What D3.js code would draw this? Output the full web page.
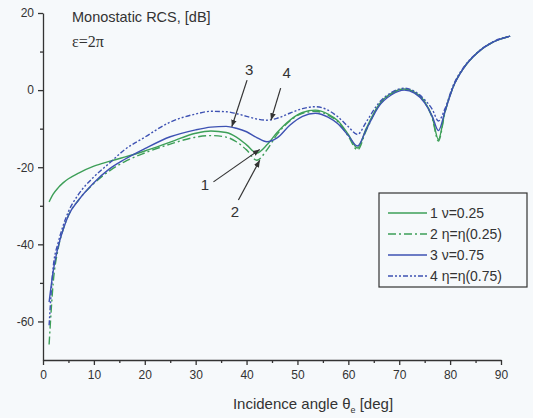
<!DOCTYPE html>
<html>
<head>
<meta charset="utf-8">
<script src="https://cdn.jsdelivr.net/npm/d3@7"></script>
<style>
  body { margin: 0; background: #f6f9fb; }
  text { font-family: "Liberation Sans", Arial, sans-serif; fill: #333; }
</style>
</head>
<body>
<div id="chart"></div>
<script>
// incidence angles (deg) shared by all curves
const angles = [1.2, 2, 3, 4, 5, 7, 10, 13, 16, 20, 25, 30, 33, 36, 38, 40, 42, 44, 46, 48.5,
    51, 53.5, 56, 58, 60, 61.8, 63.5, 66, 68.5, 71, 73, 75, 76.5, 77.7, 79, 80.6, 82.6, 85.2, 88.5, 91.8];

// monostatic RCS [dB]
const rcsNu025 = [-29, -27, -25.3, -24, -23, -21.5, -19.7, -18.5, -17.4, -15.8, -13.5, -11.2, -10.6, -11, -12.2, -14.2, -16.3, -14.2, -11, -7.8,
    -5.8, -5.2, -6.2, -8, -11.5, -15, -10, -3.8, -0.8, 0.3, -0.5, -3, -7, -12.8, -5.5, 0.9, 5.6, 9.5, 12.5, 14];
const rcsEta025 = [-66, -50, -41, -36, -32.5, -28.5, -24.2, -21, -18.6, -16.3, -14, -12.2, -11.8, -12.2, -13.4, -15.5, -18.2, -15.5, -11.5, -8,
    -6, -5.5, -6.5, -8.3, -12, -15.5, -10.5, -4, -1, 0.2, -0.6, -3.2, -7.3, -13.2, -5.8, 0.8, 5.6, 9.5, 12.5, 14];
const rcsNu075 = [-55, -47, -40.5, -36, -32.5, -28.5, -24, -20.5, -18, -15.2, -12.1, -10.3, -9.6, -9.4, -9.9, -10.8, -12.3, -13.4, -12.4, -9.1,
    -6.8, -6, -7, -8.8, -11.8, -14.5, -10.3, -4.2, -1.2, 0, -0.8, -3.3, -6.8, -10.5, -5.5, 0.8, 5.6, 9.5, 12.5, 14];
const rcsEta075 = [-61, -46, -39.5, -35, -31.5, -27, -22.5, -19, -15.5, -12.2, -8.3, -6.2, -5.5, -5.6, -6.1, -6.8, -7.5, -7.8, -7.3, -6,
    -4.8, -4.3, -5.2, -7, -9.5, -11.5, -8.3, -3.3, -0.6, 0.5, -0.3, -2.5, -5, -8, -4.8, 1.2, 5.8, 9.6, 12.6, 14];

const xTicks = [0, 10, 20, 30, 40, 50, 60, 70, 80, 90];
const xMinorTicks = [5, 15, 25, 35, 45, 55, 65, 75, 85];
const yTicks = [-60, -40, -20, 0, 20];
const yMinorTicks = [-50, -30, -10, 10];

const series = [
    { label: "1 \u03bd=0.25", values: rcsNu025, color: "#3d9f58", dash: null },
    { label: "2 \u03b7=\u03b7(0.25)", values: rcsEta025, color: "#3d9f58", dash: "8,3,2,3" },
    { label: "3 \u03bd=0.75", values: rcsNu075, color: "#3e52b3", dash: null },
    { label: "4 \u03b7=\u03b7(0.75)", values: rcsEta075, color: "#3e52b3", dash: "5,2,2,2,2,2" },
];

// callouts: label, text position, arrow start, arrow tip (data units)
const callouts = [
    { label: "3", text: [40.5, 5.2], from: [40.1, 2.6], to: [37.1, -9.5] },
    { label: "4", text: [47.9, 4.4], from: [46.7, 0.5], to: [44.8, -7.8] },
    { label: "1", text: [31.8, -24.6], from: [33.5, -23.8], to: [42.6, -15.4] },
    { label: "2", text: [37.7, -31.5], from: [38.4, -28.5], to: [42.6, -18.2] },
];

const width = 533, height = 418;

const svg = d3.select("#chart")
    .append("svg")
    .attr("width", width)
    .attr("height", height);

svg.append("rect")
    .attr("width", width)
    .attr("height", height)
    .attr("fill", "#f6f9fb");

const x = d3.scaleLinear().domain([0, 90]).range([43, 501]);
const y = d3.scaleLinear().domain([-70, 20]).range([360, 13]);

// axes
const xAxis = svg.append("g")
    .attr("transform", `translate(0,${y(-70)})`)
    .call(d3.axisBottom(x).tickValues(xTicks).tickSize(5).tickSizeOuter(0).tickPadding(5)
        .tickFormat(d => String(d)));
svg.append("g")
    .attr("transform", `translate(0,${y(-70)})`)
    .call(d3.axisBottom(x).tickValues(xMinorTicks).tickSize(3).tickFormat(""))
    .call(g => g.select(".domain").remove());

const yAxis = svg.append("g")
    .attr("transform", `translate(${x(0)},0)`)
    .call(d3.axisLeft(y).tickValues(yTicks).tickSize(5).tickSizeOuter(0).tickPadding(4)
        .tickFormat(d => String(d)));
svg.append("g")
    .attr("transform", `translate(${x(0)},0)`)
    .call(d3.axisLeft(y).tickValues(yMinorTicks).tickSize(3).tickFormat(""))
    .call(g => g.select(".domain").remove());

svg.selectAll(".domain, .tick line")
    .attr("stroke", "#333")
    .attr("stroke-width", 1.3);
svg.selectAll(".tick text")
    .style("font-size", "12px")
    .attr("fill", "#333");

// axis title
const xTitle = svg.append("text")
    .attr("x", 313)
    .attr("y", 409)
    .attr("text-anchor", "middle")
    .style("font-size", "15px");
xTitle.append("tspan").text("Incidence angle \u03b8");
xTitle.append("tspan").attr("dy", 4).style("font-size", "9px").text("e");
xTitle.append("tspan").attr("dy", -4).text(" [deg]");

svg.append("text")
    .attr("x", 72)
    .attr("y", 22)
    .style("font-size", "14.5px")
    .text("Monostatic RCS, [dB]");

svg.append("text")
    .attr("x", 72)
    .attr("y", 47)
    .style("font-family", "'Liberation Serif', 'Times New Roman', serif")
    .style("font-size", "16px")
    .text("\u03b5=2\u03c0");

// curves
const line = d3.line()
    .x((d, i) => x(angles[i]))
    .y(d => y(d))
    .curve(d3.curveMonotoneX);

svg.append("g")
    .selectAll("path")
    .data(series)
    .enter()
    .append("path")
    .attr("d", d => line(d.values))
    .attr("fill", "none")
    .attr("stroke", d => d.color)
    .attr("stroke-width", 1.4)
    .attr("stroke-dasharray", d => d.dash);

// arrow marker
svg.append("defs")
    .append("marker")
    .attr("id", "arrow")
    .attr("viewBox", "0 -5 10 10")
    .attr("refX", 10)
    .attr("refY", 0)
    .attr("markerWidth", 7)
    .attr("markerHeight", 7)
    .attr("markerUnits", "userSpaceOnUse")
    .attr("orient", "auto")
    .append("path")
    .attr("d", "M0,-4L10,0L0,4Z")
    .attr("fill", "#333");

const note = svg.append("g")
    .selectAll("g")
    .data(callouts)
    .enter()
    .append("g");

note.append("line")
    .attr("x1", d => x(d.from[0]))
    .attr("y1", d => y(d.from[1]))
    .attr("x2", d => x(d.to[0]))
    .attr("y2", d => y(d.to[1]))
    .attr("stroke", "#333")
    .attr("stroke-width", 1.2)
    .attr("marker-end", "url(#arrow)");

note.append("text")
    .attr("x", d => x(d.text[0]))
    .attr("y", d => y(d.text[1]) + 5)
    .attr("text-anchor", "middle")
    .style("font-size", "15px")
    .text(d => d.label);

// legend
const legend = svg.append("g").attr("transform", "translate(379,193)");

legend.append("rect")
    .attr("width", 148)
    .attr("height", 94)
    .attr("fill", "#f6f9fb")
    .attr("stroke", "#333")
    .attr("stroke-width", 1.2);

const item = legend.selectAll("g.item")
    .data(series)
    .enter()
    .append("g")
    .attr("class", "item")
    .attr("transform", (d, i) => `translate(0,${20 + i * 21})`);

item.append("line")
    .attr("x1", 9)
    .attr("x2", 48)
    .attr("stroke", d => d.color)
    .attr("stroke-width", 1.4)
    .attr("stroke-dasharray", d => d.dash);

item.append("text")
    .attr("x", 51)
    .attr("y", 5)
    .style("font-size", "14px")
    .text(d => d.label);
</script>
</body>
</html>
